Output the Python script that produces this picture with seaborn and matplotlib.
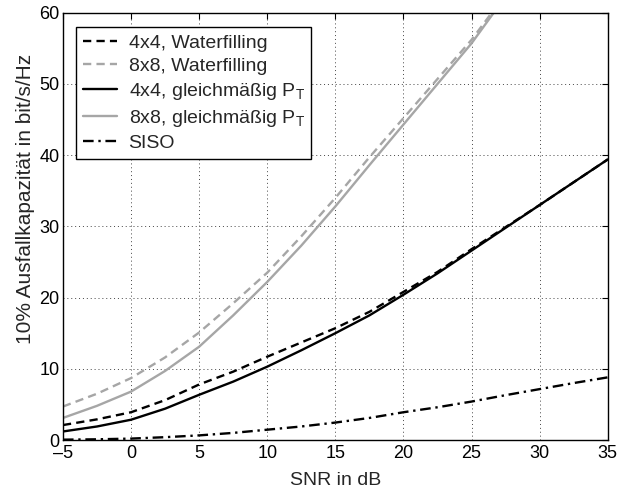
import numpy as np
import pandas as pd
import matplotlib
matplotlib.use("Agg")
import matplotlib.pyplot as plt
import seaborn as sns

# SNR axis in dB
snr = [-5, -2.5, 0, 2.5, 5, 7.5, 10, 12.5, 15, 17.5, 20, 22.5, 25, 27.5, 30, 32.5, 35]

# 10% outage capacity in bit/s/Hz
wf_4x4 = [2.1, 2.9, 3.9, 5.6, 7.8, 9.6, 11.7, 13.7, 15.7, 18.0, 20.8, 23.6, 26.8, 29.9, 33.0, 36.2, 39.4]
uni_4x4 = [1.2, 1.9, 2.85, 4.4, 6.35, 8.2, 10.3, 12.6, 15.0, 17.5, 20.4, 23.4, 26.6, 29.8, 33.0, 36.2, 39.4]
siso = [0.05, 0.1, 0.2, 0.4, 0.65, 1.0, 1.45, 1.9, 2.45, 3.1, 3.9, 4.6, 5.4, 6.3, 7.15, 8.0, 8.8]
# the 8x8 curves leave the plot at the top, only the visible part is kept
snr_8x8 = [-5, -2.5, 0, 2.5, 5, 7.5, 10, 12.5, 15, 17.5, 20, 22.5, 25, 27.5]
wf_8x8 = [4.7, 6.5, 8.7, 11.6, 15.1, 19.2, 23.5, 28.6, 34.0, 39.7, 45.2, 50.7, 56.2, 62.6]
uni_8x8 = [3.1, 4.8, 6.8, 9.7, 13.1, 17.5, 22.2, 27.3, 32.8, 38.6, 44.3, 50.0, 55.7, 62.3]

labels = ["4x4, Waterfilling", "8x8, Waterfilling",
          r"4x4, gleichmäßig P$_{\mathrm{T}}$", r"8x8, gleichmäßig P$_{\mathrm{T}}$", "SISO"]

sns.set_style("white")
plt.rcParams["font.family"] = ["Liberation Sans", "DejaVu Sans"]
plt.rcParams["mathtext.fontset"] = "custom"
plt.rcParams["mathtext.rm"] = "Liberation Sans"

fig = plt.figure(figsize=(6.17, 4.9), dpi=100)
ax = fig.add_axes([0.102, 0.102, 0.883, 0.872])

gray = "#a6a6a6"
dash = (0, (3.5, 2.2))
sns.lineplot(x=snr, y=wf_4x4, ax=ax, color="black", lw=1.7, linestyle=dash, label=labels[0])
sns.lineplot(x=snr_8x8, y=wf_8x8, ax=ax, color=gray, lw=1.7, linestyle=dash, label=labels[1])
sns.lineplot(x=snr, y=uni_4x4, ax=ax, color="black", lw=1.7, label=labels[2])
sns.lineplot(x=snr_8x8, y=uni_8x8, ax=ax, color=gray, lw=1.7, label=labels[3])
sns.lineplot(x=snr, y=siso, ax=ax, color="black", lw=1.7, linestyle=(0, (4.5, 2, 1, 2)), label=labels[4])

ax.set_xlim(-5, 35)
ax.set_ylim(0, 60)
ax.set_xticks(np.arange(-5, 36, 5))
ax.set_yticks(np.arange(0, 61, 10))
ax.set_xticklabels(["\u20135"] + [str(v) for v in range(0, 36, 5)])
ax.grid(True, color="#444444", linestyle=(0, (1, 3)), linewidth=0.7)
ax.tick_params(direction="in", top=True, right=True, length=4, labelsize=13,
               colors="black", width=0.8)
ax.tick_params(axis="x", pad=3.5)
ax.tick_params(axis="y", pad=2.5)
for s in ax.spines.values():
    s.set_color("black")
    s.set_linewidth(1.0)

ax.set_xlabel("SNR in dB", fontsize=14, labelpad=7)
ax.set_ylabel("10% Ausfallkapazität in bit/s/Hz", fontsize=15)
ax.yaxis.set_label_coords(-0.052, 0.565)

leg = ax.legend(loc="upper left", bbox_to_anchor=(0.024, 0.966), fontsize=14,
                frameon=True, fancybox=False, handlelength=1.75, handletextpad=0.6,
                labelspacing=0.3, borderpad=0.35, borderaxespad=0)
leg.get_frame().set_edgecolor("black")
leg.get_frame().set_linewidth(1.0)
leg.get_frame().set_alpha(1)

fig.savefig("out.png", dpi=100)
